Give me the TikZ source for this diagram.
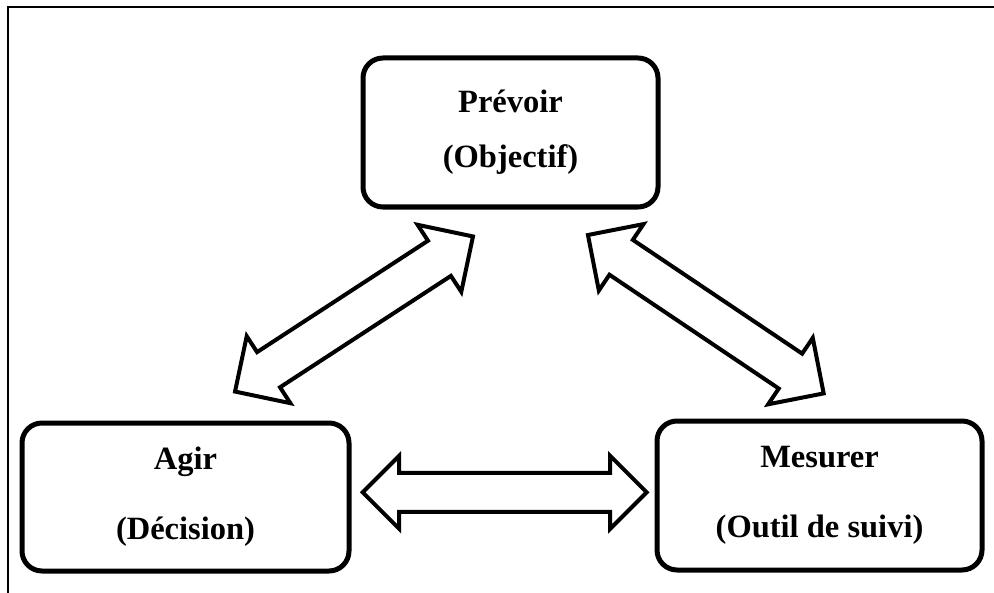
\documentclass[tikz,border=0pt]{standalone}
\usepackage{fontspec}
\setmainfont{Liberation Serif}
\usepackage{tikz}
\usetikzlibrary{shapes.arrows,positioning}

\begin{document}
\begin{tikzpicture}[
  x=0.5pt, y=-0.5pt,
  box/.style={draw, line width=2.5pt, rounded corners=10pt, align=center,
              inner sep=0pt, font=\fontsize{16.25}{35}\selectfont\bfseries},
  topbox/.style={box, font=\fontsize{16.25}{27.5}\selectfont\bfseries},
  dbl/.style={double arrow, draw, line width=2pt, inner xsep=0pt,
              double arrow tip angle=90, minimum height=142pt},
  hdbl/.style={dbl, inner ysep=8.75pt, double arrow head extend=8.5pt},
  ddbl/.style={dbl, inner ysep=9.5pt, double arrow head extend=9.5pt},
]
\useasboundingbox (0,0) rectangle (994,593);
\draw[line width=1pt] (8,593) -- (8,7.5) -- (994,7.5);

\node[topbox, minimum width=147.5pt, minimum height=74.5pt] (prevoir)
  at (510.5,132.5) {Prévoir\\(Objectif)};
\node[box, minimum width=163.5pt, minimum height=74pt] (agir)
  at (185.5,497) {Agir\\(Décision)};
\node[box, minimum width=162.5pt, minimum height=74.5pt] (mesurer)
  at (819.5,495.5) {Mesurer\\(Outil de suivi)};

\node[ddbl, rotate=33.1] (pa) at (354,314) {};
\node[ddbl, rotate=-33.9] (pm) at (705.8,314.2) {};
\node[hdbl] (am) at (504.7,492.3) {};
\end{tikzpicture}
\end{document}
